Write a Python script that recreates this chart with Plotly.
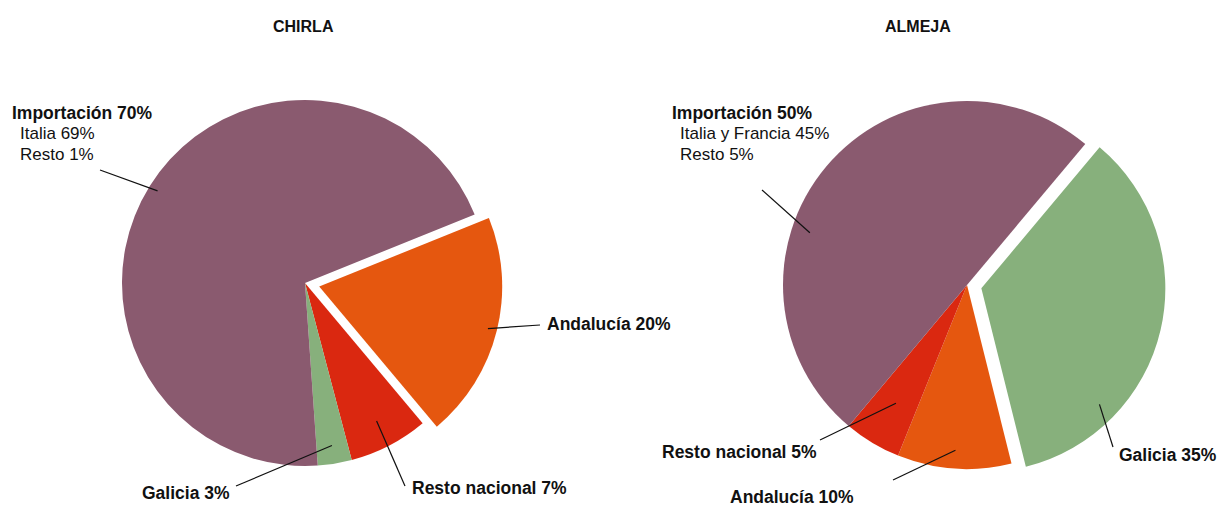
import math
import plotly.graph_objects as go

# Data
chirla_labels = ["Andalucía", "Resto nacional", "Galicia", "Importación"]
chirla_values = [20, 7, 3, 70]
almeja_labels = ["Galicia", "Andalucía", "Resto nacional", "Importación"]
almeja_values = [35, 10, 5, 50]
chirla_import_detail = ["Italia 69%", "Resto 1%"]
almeja_import_detail = ["Italia y Francia 45%", "Resto 5%"]

COLORS = {
    "Importación": "#8a5a6f",
    "Andalucía": "#e5570f",
    "Resto nacional": "#da2810",
    "Galicia": "#87b07c",
}

W, H = 1222, 510
FONT = "Liberation Sans Narrow, Liberation Sans, Arial, sans-serif"

# pie geometry in pixels (centre x, centre y from top, radius, rotation, pulled slice)
PIES = {
    "CHIRLA": dict(cx=305, cy=283, r=183, rot=68, pull_label="Andalucía", pull=0.08,
                   labels=chirla_labels, values=chirla_values),
    "ALMEJA": dict(cx=967, cy=285, r=184, rot=40, pull_label="Galicia", pull=0.08,
                   labels=almeja_labels, values=almeja_values),
}


def px(x):
    return x / W


def py(y):
    return 1 - y / H


def slice_point(p, label, frac_angle, frac_r):
    """Pixel point inside a slice: frac_angle along its arc, frac_r of the radius."""
    total = sum(p["values"])
    cum = 0
    for lab, v in zip(p["labels"], p["values"]):
        if lab == label:
            ang = math.radians(p["rot"] + 360 * (cum + v * frac_angle) / total)
            mid = math.radians(p["rot"] + 360 * (cum + v / 2) / total)
            break
        cum += v
    off = p["pull"] * p["r"] if label == p["pull_label"] else 0
    x = p["cx"] + frac_r * p["r"] * math.sin(ang) + off * math.sin(mid)
    y = p["cy"] - frac_r * p["r"] * math.cos(ang) - off * math.cos(mid)
    return x, y


fig = go.Figure()
for name, p in PIES.items():
    half = p["r"] * (1 + p["pull"])
    fig.add_trace(go.Pie(
        labels=p["labels"],
        values=p["values"],
        sort=False,
        direction="clockwise",
        rotation=p["rot"],
        pull=[p["pull"] if l == p["pull_label"] else 0 for l in p["labels"]],
        marker=dict(colors=[COLORS[l] for l in p["labels"]], line=dict(width=0)),
        textinfo="none",
        hoverinfo="label+percent",
        showlegend=False,
        domain=dict(x=[px(p["cx"] - half), px(p["cx"] + half)],
                    y=[py(p["cy"] + half), py(p["cy"] - half)]),
    ))

annotations = []
shapes = []


def text(x, y, s, bold=False, size=17.5, xanchor="left"):
    annotations.append(dict(
        x=px(x), y=py(y), xref="paper", yref="paper", showarrow=False,
        text=f"<b>{s}</b>" if bold else s, xanchor=xanchor, yanchor="middle",
        font=dict(family=FONT, size=size, color="#111111"),
    ))


def leader(pie, label, frac_angle, frac_r, x1, y1):
    x0, y0 = slice_point(PIES[pie], label, frac_angle, frac_r)
    shapes.append(dict(type="line", xref="paper", yref="paper",
                       x0=px(x0), y0=py(y0), x1=px(x1), y1=py(y1),
                       line=dict(color="#111111", width=1.2)))


def pct(pie, label):
    p = PIES[pie]
    return p["values"][p["labels"].index(label)]


# titles
text(303, 26, "CHIRLA", bold=True, size=16, xanchor="center")
text(918, 26, "ALMEJA", bold=True, size=16, xanchor="center")

# CHIRLA labels
text(10, 113, f"Importación {pct('CHIRLA', 'Importación')}%", bold=True)
for i, s in enumerate(chirla_import_detail):
    text(18, 134 + 20 * i, s, size=17)
leader("CHIRLA", "Importación", 0.5, 0.95, 100, 170)
text(545, 324, f"Andalucía {pct('CHIRLA', 'Andalucía')}%", bold=True)
leader("CHIRLA", "Andalucía", 0.5, 0.95, 540, 325)
text(410, 488, f"Resto nacional {pct('CHIRLA', 'Resto nacional')}%", bold=True)
leader("CHIRLA", "Resto nacional", 0.5, 0.85, 405, 486)
text(140, 493, f"Galicia {pct('CHIRLA', 'Galicia')}%", bold=True)
leader("CHIRLA", "Galicia", 0.5, 0.9, 236, 486)

# ALMEJA labels
text(670, 113, f"Importación {pct('ALMEJA', 'Importación')}%", bold=True)
for i, s in enumerate(almeja_import_detail):
    text(678, 134 + 20 * i, s, size=17)
leader("ALMEJA", "Importación", 0.38, 0.9, 762, 190)
text(1117, 455, f"Galicia {pct('ALMEJA', 'Galicia')}%", bold=True)
leader("ALMEJA", "Galicia", 0.75, 0.9, 1113, 447)
text(660, 452, f"Resto nacional {pct('ALMEJA', 'Resto nacional')}%", bold=True)
leader("ALMEJA", "Resto nacional", 0.5, 0.75, 820, 440)
text(728, 497, f"Andalucía {pct('ALMEJA', 'Andalucía')}%", bold=True)
leader("ALMEJA", "Andalucía", 0.5, 0.9, 893, 480)

fig.update_layout(
    width=W, height=H,
    margin=dict(l=0, r=0, t=0, b=0),
    paper_bgcolor="white", plot_bgcolor="white",
    annotations=annotations, shapes=shapes,
)

fig.write_html("out.html")
